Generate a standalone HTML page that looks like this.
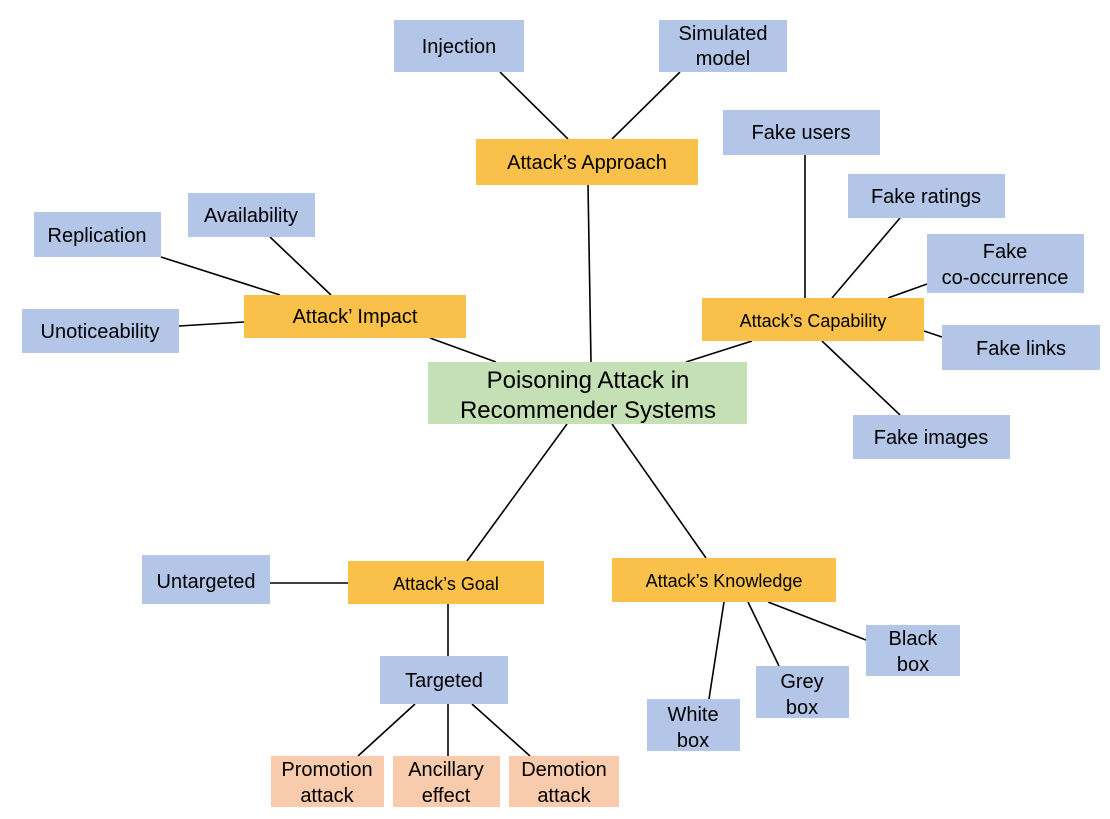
<!DOCTYPE html>
<html><head><meta charset="utf-8"><style>
html,body{margin:0;padding:0;background:#fff;}
svg{display:block;font-family:"Liberation Sans",Arial,sans-serif;}
</style></head><body>
<svg width="1110" height="819" viewBox="0 0 1110 819" xmlns="http://www.w3.org/2000/svg">
<g stroke="#000" stroke-width="1.6">
<line x1="500" y1="72" x2="568" y2="139"/>
<line x1="680" y1="72" x2="612" y2="139"/>
<line x1="588" y1="185" x2="591" y2="362"/>
<line x1="805" y1="155" x2="805" y2="298"/>
<line x1="900" y1="218" x2="832" y2="298"/>
<line x1="927" y1="284" x2="888" y2="298"/>
<line x1="942" y1="337" x2="924" y2="331"/>
<line x1="900" y1="415" x2="822" y2="341"/>
<line x1="752" y1="341" x2="686" y2="362"/>
<line x1="270" y1="237" x2="331" y2="295"/>
<line x1="161" y1="257" x2="280" y2="295"/>
<line x1="179" y1="326" x2="244" y2="322"/>
<line x1="430" y1="338" x2="496" y2="362"/>
<line x1="567" y1="424" x2="467" y2="561"/>
<line x1="612" y1="424" x2="706" y2="558"/>
<line x1="270" y1="583" x2="348" y2="583"/>
<line x1="448" y1="604" x2="448" y2="656"/>
<line x1="724" y1="602" x2="709" y2="699"/>
<line x1="748" y1="602" x2="779" y2="666"/>
<line x1="768" y1="602" x2="866" y2="640"/>
<line x1="415" y1="704" x2="358" y2="756"/>
<line x1="448" y1="704" x2="448" y2="756"/>
<line x1="472" y1="704" x2="530" y2="756"/>
</g>
<g fill="#b4c6e7">
<rect x="394" y="20" width="130" height="52"/>
<rect x="659" y="20" width="128" height="52"/>
<rect x="723" y="110" width="157" height="45"/>
<rect x="848" y="174" width="157" height="44"/>
<rect x="927" y="234" width="157" height="59"/>
<rect x="942" y="325" width="158" height="45"/>
<rect x="853" y="415" width="157" height="44"/>
<rect x="188" y="193" width="127" height="44"/>
<rect x="34" y="212" width="127" height="45"/>
<rect x="22" y="309" width="157" height="44"/>
<rect x="142" y="555" width="128" height="49"/>
<rect x="380" y="656" width="128" height="48"/>
<rect x="866" y="625" width="94" height="51"/>
<rect x="756" y="666" width="93" height="52"/>
<rect x="647" y="699" width="93" height="52"/>
</g>
<g fill="#f9c04a">
<rect x="476" y="139" width="222" height="46"/>
<rect x="702" y="298" width="222" height="43"/>
<rect x="244" y="295" width="222" height="43"/>
<rect x="348" y="561" width="196" height="43"/>
<rect x="612" y="558" width="224" height="44"/>
</g>
<rect x="428" y="362" width="319" height="62" fill="#c5e0b4"/>
<g fill="#f8cbad">
<rect x="271" y="756" width="113" height="51"/>
<rect x="393" y="756" width="107" height="51"/>
<rect x="509" y="756" width="110" height="51"/>
</g>
<g font-size="20" fill="#000" text-anchor="middle">
<text x="459" y="53">Injection</text>
<text x="723" y="40">Simulated</text>
<text x="723" y="65">model</text>
<text x="801" y="139">Fake users</text>
<text x="926" y="203">Fake ratings</text>
<text x="1005" y="258">Fake</text>
<text x="1005" y="284">co-occurrence</text>
<text x="1021" y="355">Fake links</text>
<text x="931" y="444">Fake images</text>
<text x="251" y="222">Availability</text>
<text x="97" y="242">Replication</text>
<text x="100" y="338">Unoticeability</text>
<text x="206" y="588">Untargeted</text>
<text x="444" y="687">Targeted</text>
<text x="913" y="645">Black</text>
<text x="913" y="671">box</text>
<text x="802" y="688">Grey</text>
<text x="802" y="714">box</text>
<text x="693" y="721">White</text>
<text x="693" y="747">box</text>
<text x="587" y="169">Attack’s Approach</text>
<text x="355" y="323">Attack’ Impact</text>
<text x="327" y="776">Promotion</text>
<text x="327" y="802">attack</text>
<text x="446" y="776">Ancillary</text>
<text x="446" y="802">effect</text>
<text x="564" y="776">Demotion</text>
<text x="564" y="802">attack</text>
</g>
<g font-size="18" text-anchor="middle">
<text x="813" y="327">Attack’s Capability</text>
<text x="446" y="590">Attack’s Goal</text>
<text x="724" y="587">Attack’s Knowledge</text>
</g>
<g font-size="24" text-anchor="middle">
<text x="588" y="388">Poisoning Attack in</text>
<text x="588" y="418">Recommender Systems</text>
</g>
</svg>
</body></html>
